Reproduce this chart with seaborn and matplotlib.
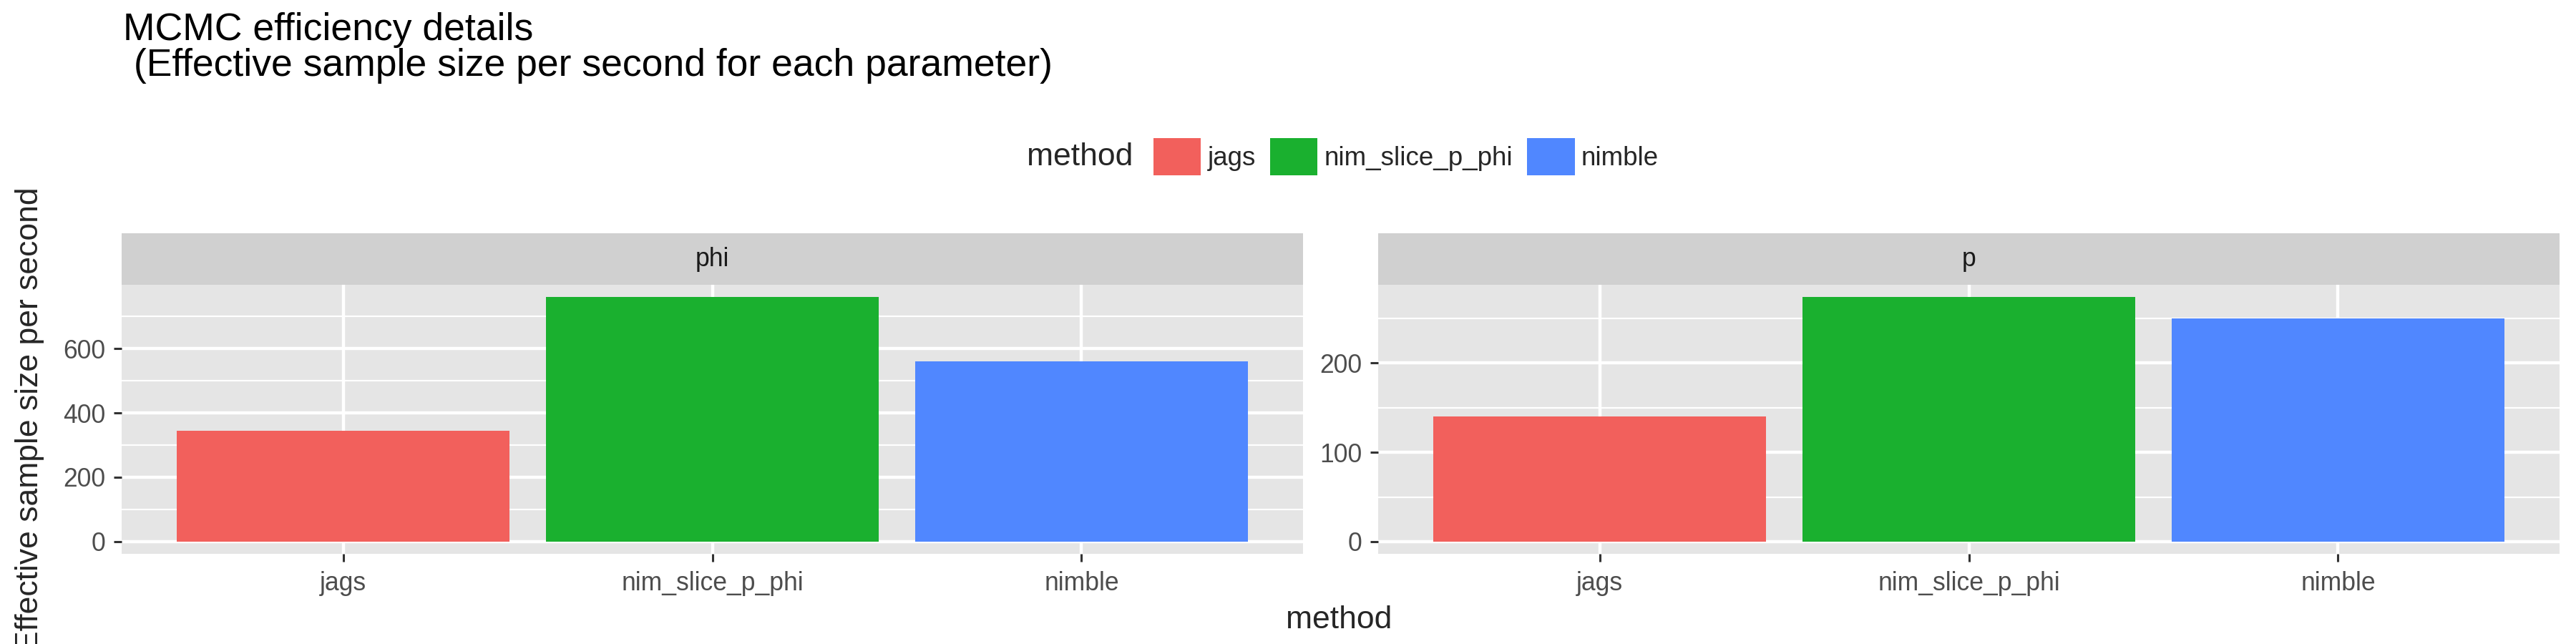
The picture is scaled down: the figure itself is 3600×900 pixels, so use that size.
import numpy as np
import pandas as pd
import matplotlib
matplotlib.use('Agg')
import matplotlib.pyplot as plt
import matplotlib.patches as mpatches
from matplotlib.ticker import MultipleLocator
import seaborn as sns


# 数据：每个参数下各方法的有效样本量/秒
methods = ['jags', 'nim_slice_p_phi', 'nimble']
params = ['phi', 'p']
ess_phi = [344, 760, 560]
ess_p = [140, 274, 250]
colors = ['#F2605C', '#1AB02F', '#5087FF']

df = pd.DataFrame({
    'method': methods * 2,
    'param': ['phi'] * 3 + ['p'] * 3,
    'ess': ess_phi + ess_p,
})
palette = dict(zip(methods, colors))

sns.set_theme(style='white')
plt.rcParams['font.family'] = ['Liberation Sans', 'DejaVu Sans']

W, H = 3600, 900
fig = plt.figure(figsize=(36, 9), dpi=100)

# 面板位置 (像素 -> 比例)
panel_x = [170, 1926]
panel_w = 1651
panel_top, panel_bot = 398, 774
strip_top = 326
major_step = {'phi': 200, 'p': 100}

for px, prm in zip(panel_x, params):
    ax = fig.add_axes([px / W, 1 - panel_bot / H, panel_w / W, (panel_bot - panel_top) / H])
    sub = df[df['param'] == prm]
    sns.barplot(data=sub, x='method', y='ess', hue='method', order=methods,
                hue_order=methods, palette=palette, width=0.9, legend=False,
                linewidth=0, saturation=1, ax=ax)
    ymax = sub['ess'].max()
    ax.set_xlim(-0.6, 2.6)
    ax.set_ylim(-0.05 * ymax, 1.05 * ymax)
    ax.yaxis.set_major_locator(MultipleLocator(major_step[prm]))
    ax.yaxis.set_minor_locator(MultipleLocator(major_step[prm] / 2))
    ax.set_facecolor('#E5E5E5')
    ax.set_axisbelow(True)
    ax.grid(which='major', color='white', lw=3.2)
    ax.grid(which='minor', axis='y', color='white', lw=1.6)
    for s in ax.spines.values():
        s.set_visible(False)
    ax.tick_params(axis='both', which='major', length=8, width=2.2, color='#333333',
                   labelsize=25.6, labelcolor='#4D4D4D', left=True, bottom=True)
    ax.tick_params(axis='y', pad=8.5)
    ax.tick_params(axis='x', pad=9)
    ax.tick_params(which='minor', length=0)
    ax.set_xlabel('')
    ax.set_ylabel('')

    # 分面标签条
    sax = fig.add_axes([px / W, 1 - panel_top / H, panel_w / W, (panel_top - strip_top) / H])
    sax.set_facecolor('#D0D0D0')
    sax.set_xticks([])
    sax.set_yticks([])
    for s in sax.spines.values():
        s.set_visible(False)
    sax.text(0.5, 0.5, prm, ha='center', va='center', fontsize=25.6, color='#1A1A1A',
             transform=sax.transAxes)

# 标题
fig.text(172 / W, 1 - 56 / H, 'MCMC efficiency details', fontsize=38.5,
         va='baseline', ha='left', color='black')
fig.text(172 / W, 1 - 106 / H, ' (Effective sample size per second for each parameter)',
         fontsize=38.5, va='baseline', ha='left', color='black')

# 坐标轴标题
fig.text(1871 / W, 1 - 878 / H, 'method', fontsize=32, ha='center', va='baseline')
fig.text(42 / W, 1 - 586 / H, 'Effective sample size per second', fontsize=32,
         rotation=90, ha='center', va='center')

# 图例
fig.text(1435 / W, 1 - 219 / H, 'method', fontsize=32, ha='left', va='center')
handles = [mpatches.Patch(facecolor=palette[m], edgecolor='none', label=m) for m in methods]
fig.legend(handles=handles, loc='center left', bbox_to_anchor=(1612 / W, 1 - 219 / H),
           ncol=3, frameon=False, fontsize=26.5, handlelength=1.8, handleheight=1.8,
           handletextpad=0.25, columnspacing=0.55, borderpad=0, borderaxespad=0)

fig.savefig('out.png', dpi=100)
